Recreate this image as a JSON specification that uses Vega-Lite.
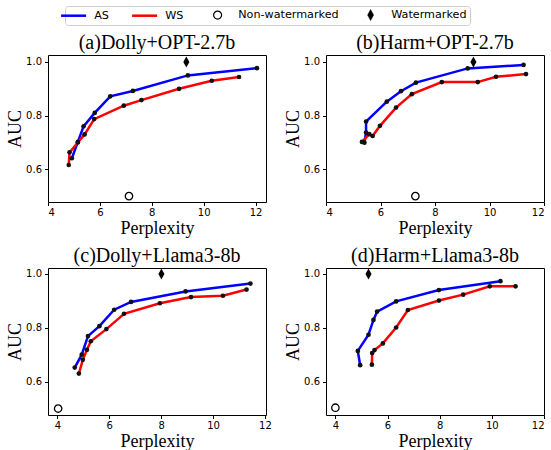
{
  "$schema": "https://vega.github.io/schema/vega-lite/v6.json",
  "padding": {"left": 6, "top": 5, "right": 0, "bottom": 0},
  "background": "white",
  "datasets": {
    "curves": [
      {"panel": "a", "series": "AS", "i": 1, "x": 4.92, "y": 0.641},
      {"panel": "a", "series": "AS", "i": 2, "x": 5.15, "y": 0.702},
      {"panel": "a", "series": "AS", "i": 3, "x": 5.37, "y": 0.760},
      {"panel": "a", "series": "AS", "i": 4, "x": 5.80, "y": 0.810},
      {"panel": "a", "series": "AS", "i": 5, "x": 6.40, "y": 0.872},
      {"panel": "a", "series": "AS", "i": 6, "x": 7.27, "y": 0.892},
      {"panel": "a", "series": "AS", "i": 7, "x": 9.39, "y": 0.950},
      {"panel": "a", "series": "AS", "i": 8, "x": 12.05, "y": 0.977},
      {"panel": "a", "series": "WS", "i": 1, "x": 4.80, "y": 0.616},
      {"panel": "a", "series": "WS", "i": 2, "x": 4.83, "y": 0.663},
      {"panel": "a", "series": "WS", "i": 3, "x": 5.15, "y": 0.700},
      {"panel": "a", "series": "WS", "i": 4, "x": 5.41, "y": 0.730},
      {"panel": "a", "series": "WS", "i": 5, "x": 5.78, "y": 0.787},
      {"panel": "a", "series": "WS", "i": 6, "x": 6.92, "y": 0.837},
      {"panel": "a", "series": "WS", "i": 7, "x": 7.60, "y": 0.858},
      {"panel": "a", "series": "WS", "i": 8, "x": 9.05, "y": 0.900},
      {"panel": "a", "series": "WS", "i": 9, "x": 10.31, "y": 0.930},
      {"panel": "a", "series": "WS", "i": 10, "x": 11.36, "y": 0.944},
      {"panel": "b", "series": "AS", "i": 1, "x": 5.41, "y": 0.699},
      {"panel": "b", "series": "AS", "i": 2, "x": 5.47, "y": 0.737},
      {"panel": "b", "series": "AS", "i": 3, "x": 5.47, "y": 0.778},
      {"panel": "b", "series": "AS", "i": 4, "x": 6.23, "y": 0.852},
      {"panel": "b", "series": "AS", "i": 5, "x": 6.75, "y": 0.891},
      {"panel": "b", "series": "AS", "i": 6, "x": 7.30, "y": 0.923},
      {"panel": "b", "series": "AS", "i": 7, "x": 9.20, "y": 0.976},
      {"panel": "b", "series": "AS", "i": 8, "x": 11.25, "y": 0.989},
      {"panel": "b", "series": "WS", "i": 1, "x": 5.32, "y": 0.702},
      {"panel": "b", "series": "WS", "i": 2, "x": 5.59, "y": 0.731},
      {"panel": "b", "series": "WS", "i": 3, "x": 5.71, "y": 0.724},
      {"panel": "b", "series": "WS", "i": 4, "x": 5.98, "y": 0.762},
      {"panel": "b", "series": "WS", "i": 5, "x": 6.57, "y": 0.830},
      {"panel": "b", "series": "WS", "i": 6, "x": 7.15, "y": 0.880},
      {"panel": "b", "series": "WS", "i": 7, "x": 8.25, "y": 0.925},
      {"panel": "b", "series": "WS", "i": 8, "x": 9.57, "y": 0.925},
      {"panel": "b", "series": "WS", "i": 9, "x": 10.24, "y": 0.945},
      {"panel": "b", "series": "WS", "i": 10, "x": 11.34, "y": 0.955},
      {"panel": "c", "series": "AS", "i": 1, "x": 4.67, "y": 0.652},
      {"panel": "c", "series": "AS", "i": 2, "x": 4.94, "y": 0.700},
      {"panel": "c", "series": "AS", "i": 3, "x": 5.18, "y": 0.769},
      {"panel": "c", "series": "AS", "i": 4, "x": 5.62, "y": 0.806},
      {"panel": "c", "series": "AS", "i": 5, "x": 6.19, "y": 0.867},
      {"panel": "c", "series": "AS", "i": 6, "x": 6.84, "y": 0.896},
      {"panel": "c", "series": "AS", "i": 7, "x": 8.94, "y": 0.935},
      {"panel": "c", "series": "AS", "i": 8, "x": 11.44, "y": 0.964},
      {"panel": "c", "series": "WS", "i": 1, "x": 4.83, "y": 0.630},
      {"panel": "c", "series": "WS", "i": 2, "x": 4.98, "y": 0.681},
      {"panel": "c", "series": "WS", "i": 3, "x": 5.14, "y": 0.718},
      {"panel": "c", "series": "WS", "i": 4, "x": 5.29, "y": 0.750},
      {"panel": "c", "series": "WS", "i": 5, "x": 5.89, "y": 0.795},
      {"panel": "c", "series": "WS", "i": 6, "x": 6.57, "y": 0.852},
      {"panel": "c", "series": "WS", "i": 7, "x": 7.95, "y": 0.891},
      {"panel": "c", "series": "WS", "i": 8, "x": 9.15, "y": 0.914},
      {"panel": "c", "series": "WS", "i": 9, "x": 10.38, "y": 0.919},
      {"panel": "c", "series": "WS", "i": 10, "x": 11.29, "y": 0.942},
      {"panel": "d", "series": "AS", "i": 1, "x": 4.95, "y": 0.661},
      {"panel": "d", "series": "AS", "i": 2, "x": 4.86, "y": 0.714},
      {"panel": "d", "series": "AS", "i": 3, "x": 5.27, "y": 0.774},
      {"panel": "d", "series": "AS", "i": 4, "x": 5.46, "y": 0.829},
      {"panel": "d", "series": "AS", "i": 5, "x": 5.60, "y": 0.860},
      {"panel": "d", "series": "AS", "i": 6, "x": 6.33, "y": 0.898},
      {"panel": "d", "series": "AS", "i": 7, "x": 7.97, "y": 0.940},
      {"panel": "d", "series": "AS", "i": 8, "x": 10.33, "y": 0.973},
      {"panel": "d", "series": "WS", "i": 1, "x": 5.40, "y": 0.663},
      {"panel": "d", "series": "WS", "i": 2, "x": 5.41, "y": 0.706},
      {"panel": "d", "series": "WS", "i": 3, "x": 5.50, "y": 0.717},
      {"panel": "d", "series": "WS", "i": 4, "x": 5.82, "y": 0.742},
      {"panel": "d", "series": "WS", "i": 5, "x": 6.33, "y": 0.801},
      {"panel": "d", "series": "WS", "i": 6, "x": 6.78, "y": 0.866},
      {"panel": "d", "series": "WS", "i": 7, "x": 7.97, "y": 0.901},
      {"panel": "d", "series": "WS", "i": 8, "x": 8.90, "y": 0.923},
      {"panel": "d", "series": "WS", "i": 9, "x": 9.92, "y": 0.954},
      {"panel": "d", "series": "WS", "i": 10, "x": 10.91, "y": 0.954}
    ],
    "markers": [
      {"panel": "a", "series": "Watermarked", "x": 9.33, "y": 1.0},
      {"panel": "a", "series": "Non-watermarked", "x": 7.12, "y": 0.5},
      {"panel": "b", "series": "Watermarked", "x": 9.41, "y": 1.0},
      {"panel": "b", "series": "Non-watermarked", "x": 7.28, "y": 0.5},
      {"panel": "c", "series": "Watermarked", "x": 8.01, "y": 1.0},
      {"panel": "c", "series": "Non-watermarked", "x": 4.03, "y": 0.5},
      {"panel": "d", "series": "Watermarked", "x": 5.27, "y": 1.0},
      {"panel": "d", "series": "Non-watermarked", "x": 4.0, "y": 0.503}
    ]
  },
  "config": {
    "view": {"stroke": "black", "strokeWidth": 1},
    "axis": {
      "domain": false,
      "grid": false,
      "tickColor": "black",
      "tickSize": 3.5,
      "labelFont": "DejaVu Sans",
      "labelFontSize": 10,
      "labelColor": "black",
      "labelPadding": 3,
      "titleFont": "Liberation Serif",
      "titleFontSize": 18,
      "titleFontWeight": "normal",
      "titleColor": "black"
    },
    "axisX": {"labelPadding": 1.5},
    "title": {"font": "Liberation Serif", "fontSize": 20, "fontWeight": "normal", "color": "black", "offset": 2},
    "legend": {
      "orient": "none",
      "direction": "horizontal",
      "legendX": 17,
      "legendY": -49,
      "labelFont": "DejaVu Sans",
      "labelFontSize": 11.2,
      "labelColor": "black",
      "strokeColor": "#cccccc",
      "cornerRadius": 3,
      "padding": 3,
      "fillColor": "white",
      "columnPadding": 18,
      "symbolSize": 625,
      "symbolType": "stroke",
      "symbolStrokeWidth": 2.5,
      "labelOffset": 15,
      "title": null
    }
  },
  "columns": 2,
  "bounds": "flush",
  "spacing": {"row": 66, "column": 60},
  "resolve": {"scale": {"x": "independent", "y": "independent"}},
  "concat": [
    {
      "title": "(a)Dolly+OPT-2.7b",
      "width": 218, "height": 147,
      "layer": [
        {
          "data": {"name": "curves"},
          "transform": [{"filter": "datum.panel === 'a'"}],
          "mark": {"type": "line", "strokeWidth": 2.5},
          "encoding": {
            "x": {"field": "x", "type": "quantitative", "scale": {"domain": [4, 12.4], "nice": false, "zero": false}, "axis": {"values": [4, 6, 8, 10, 12], "title": "Perplexity", "titlePadding": 2}},
            "y": {"field": "y", "type": "quantitative", "scale": {"domain": [0.478, 1.026], "nice": false, "zero": false}, "axis": {"values": [0.6, 0.7, 0.8, 0.9, 1.0], "format": ".1f", "title": "AUC", "titlePadding": 1}},
            "color": {"field": "series", "type": "nominal", "scale": {"domain": ["AS", "WS", "Non-watermarked", "Watermarked"], "range": ["#0000ff", "#ff0000", "black", "black"]},
              "legend": {"encode": {"symbols": {"update": {
                "shape": {"signal": "datum.value === 'Non-watermarked' ? 'M-1,0L-1,0M1,0L1,0M0.32,0A0.32,0.32,0,1,1,-0.32,0A0.32,0.32,0,1,1,0.32,0Z' : datum.value === 'Watermarked' ? 'M-1,0L-1,0M1,0L1,0M0,-0.44L0.24,0L0,0.44L-0.24,0Z' : 'stroke'"},
                "size": {"value": 625},
                "fill": {"signal": "datum.value === 'Non-watermarked' ? 'white' : datum.value === 'Watermarked' ? 'black' : 'transparent'"},
                "stroke": {"signal": "datum.value === 'AS' ? '#0000ff' : datum.value === 'WS' ? '#ff0000' : 'black'"},
                "strokeWidth": {"signal": "datum.value === 'Non-watermarked' ? 1.2 : datum.value === 'Watermarked' ? 0.5 : 2.5"}
              }}}}},
            "order": {"field": "i", "type": "quantitative"}
          }
        },
        {
          "data": {"name": "curves"},
          "transform": [{"filter": "datum.panel === 'a'"}],
          "mark": {"type": "point", "filled": true, "color": "#111111", "size": 22, "opacity": 1},
          "encoding": {"x": {"field": "x", "type": "quantitative"}, "y": {"field": "y", "type": "quantitative"}}
        },
        {
          "data": {"name": "markers"},
          "transform": [{"filter": "datum.panel === 'a' && datum.series === 'Watermarked'"}],
          "mark": {"type": "point", "filled": true, "color": "black", "shape": "M0,-1L0.55,0L0,1L-0.55,0Z", "size": 121, "opacity": 1},
          "encoding": {"x": {"field": "x", "type": "quantitative"}, "y": {"field": "y", "type": "quantitative"}}
        },
        {
          "data": {"name": "markers"},
          "transform": [{"filter": "datum.panel === 'a' && datum.series === 'Non-watermarked'"}],
          "mark": {"type": "point", "filled": false, "stroke": "black", "fill": "white", "strokeWidth": 1.3, "shape": "circle", "size": 55, "opacity": 1},
          "encoding": {"x": {"field": "x", "type": "quantitative"}, "y": {"field": "y", "type": "quantitative"}}
        }
      ]
    },
    {
      "title": "(b)Harm+OPT-2.7b",
      "width": 218, "height": 147,
      "layer": [
        {
          "data": {"name": "curves"},
          "transform": [{"filter": "datum.panel === 'b'"}],
          "mark": {"type": "line", "strokeWidth": 2.5},
          "encoding": {
            "x": {"field": "x", "type": "quantitative", "scale": {"domain": [4, 12], "nice": false, "zero": false}, "axis": {"values": [4, 6, 8, 10, 12], "title": "Perplexity", "titlePadding": 2}},
            "y": {"field": "y", "type": "quantitative", "scale": {"domain": [0.478, 1.026], "nice": false, "zero": false}, "axis": {"values": [0.6, 0.7, 0.8, 0.9, 1.0], "format": ".1f", "title": "AUC", "titlePadding": 1}},
            "color": {"field": "series", "type": "nominal"},
            "order": {"field": "i", "type": "quantitative"}
          }
        },
        {
          "data": {"name": "curves"},
          "transform": [{"filter": "datum.panel === 'b'"}],
          "mark": {"type": "point", "filled": true, "color": "#111111", "size": 22, "opacity": 1},
          "encoding": {"x": {"field": "x", "type": "quantitative"}, "y": {"field": "y", "type": "quantitative"}}
        },
        {
          "data": {"name": "markers"},
          "transform": [{"filter": "datum.panel === 'b' && datum.series === 'Watermarked'"}],
          "mark": {"type": "point", "filled": true, "color": "black", "shape": "M0,-1L0.55,0L0,1L-0.55,0Z", "size": 121, "opacity": 1},
          "encoding": {"x": {"field": "x", "type": "quantitative"}, "y": {"field": "y", "type": "quantitative"}}
        },
        {
          "data": {"name": "markers"},
          "transform": [{"filter": "datum.panel === 'b' && datum.series === 'Non-watermarked'"}],
          "mark": {"type": "point", "filled": false, "stroke": "black", "fill": "white", "strokeWidth": 1.3, "shape": "circle", "size": 55, "opacity": 1},
          "encoding": {"x": {"field": "x", "type": "quantitative"}, "y": {"field": "y", "type": "quantitative"}}
        }
      ]
    },
    {
      "title": "(c)Dolly+Llama3-8b",
      "width": 218, "height": 147,
      "layer": [
        {
          "data": {"name": "curves"},
          "transform": [{"filter": "datum.panel === 'c'"}],
          "mark": {"type": "line", "strokeWidth": 2.5},
          "encoding": {
            "x": {"field": "x", "type": "quantitative", "scale": {"domain": [3.64, 12.04], "nice": false, "zero": false}, "axis": {"values": [4, 6, 8, 10, 12], "title": "Perplexity", "titlePadding": 2}},
            "y": {"field": "y", "type": "quantitative", "scale": {"domain": [0.476, 1.022], "nice": false, "zero": false}, "axis": {"values": [0.6, 0.7, 0.8, 0.9, 1.0], "format": ".1f", "title": "AUC", "titlePadding": 1}},
            "color": {"field": "series", "type": "nominal"},
            "order": {"field": "i", "type": "quantitative"}
          }
        },
        {
          "data": {"name": "curves"},
          "transform": [{"filter": "datum.panel === 'c'"}],
          "mark": {"type": "point", "filled": true, "color": "#111111", "size": 22, "opacity": 1},
          "encoding": {"x": {"field": "x", "type": "quantitative"}, "y": {"field": "y", "type": "quantitative"}}
        },
        {
          "data": {"name": "markers"},
          "transform": [{"filter": "datum.panel === 'c' && datum.series === 'Watermarked'"}],
          "mark": {"type": "point", "filled": true, "color": "black", "shape": "M0,-1L0.55,0L0,1L-0.55,0Z", "size": 121, "opacity": 1},
          "encoding": {"x": {"field": "x", "type": "quantitative"}, "y": {"field": "y", "type": "quantitative"}}
        },
        {
          "data": {"name": "markers"},
          "transform": [{"filter": "datum.panel === 'c' && datum.series === 'Non-watermarked'"}],
          "mark": {"type": "point", "filled": false, "stroke": "black", "fill": "white", "strokeWidth": 1.3, "shape": "circle", "size": 55, "opacity": 1},
          "encoding": {"x": {"field": "x", "type": "quantitative"}, "y": {"field": "y", "type": "quantitative"}}
        }
      ]
    },
    {
      "title": "(d)Harm+Llama3-8b",
      "width": 218, "height": 147,
      "layer": [
        {
          "data": {"name": "curves"},
          "transform": [{"filter": "datum.panel === 'd'"}],
          "mark": {"type": "line", "strokeWidth": 2.5},
          "encoding": {
            "x": {"field": "x", "type": "quantitative", "scale": {"domain": [3.64, 12.0], "nice": false, "zero": false}, "axis": {"values": [4, 6, 8, 10, 12], "title": "Perplexity", "titlePadding": 2}},
            "y": {"field": "y", "type": "quantitative", "scale": {"domain": [0.476, 1.022], "nice": false, "zero": false}, "axis": {"values": [0.6, 0.7, 0.8, 0.9, 1.0], "format": ".1f", "title": "AUC", "titlePadding": 1}},
            "color": {"field": "series", "type": "nominal"},
            "order": {"field": "i", "type": "quantitative"}
          }
        },
        {
          "data": {"name": "curves"},
          "transform": [{"filter": "datum.panel === 'd'"}],
          "mark": {"type": "point", "filled": true, "color": "#111111", "size": 22, "opacity": 1},
          "encoding": {"x": {"field": "x", "type": "quantitative"}, "y": {"field": "y", "type": "quantitative"}}
        },
        {
          "data": {"name": "markers"},
          "transform": [{"filter": "datum.panel === 'd' && datum.series === 'Watermarked'"}],
          "mark": {"type": "point", "filled": true, "color": "black", "shape": "M0,-1L0.55,0L0,1L-0.55,0Z", "size": 121, "opacity": 1},
          "encoding": {"x": {"field": "x", "type": "quantitative"}, "y": {"field": "y", "type": "quantitative"}}
        },
        {
          "data": {"name": "markers"},
          "transform": [{"filter": "datum.panel === 'd' && datum.series === 'Non-watermarked'"}],
          "mark": {"type": "point", "filled": false, "stroke": "black", "fill": "white", "strokeWidth": 1.3, "shape": "circle", "size": 55, "opacity": 1},
          "encoding": {"x": {"field": "x", "type": "quantitative"}, "y": {"field": "y", "type": "quantitative"}}
        }
      ]
    }
  ]
}
